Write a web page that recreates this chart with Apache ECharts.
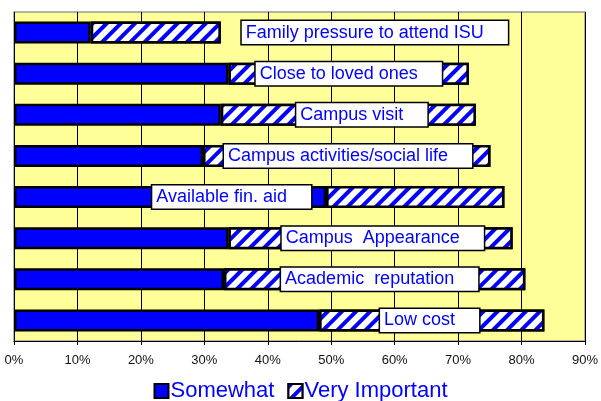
<!DOCTYPE html>
<html><head><meta charset="utf-8">
<script src="https://cdn.jsdelivr.net/npm/echarts@6/dist/echarts.min.js"></script>
<style>html,body{margin:0;padding:0;background:#fff}#c{width:601px;height:401px}</style>
</head><body><div id="c"></div>
<script>
var categories = ["Family pressure to attend ISU","Close to loved ones","Campus visit","Campus activities/social life","Available fin. aid","Campus  Appearance","Academic  reputation","Low cost"];
var somewhat = [12.1, 33.8, 32.6, 29.8, 49.2, 33.8, 33.1, 48.1];
var veryImportant = [20.5, 37.9, 40.2, 45.3, 28.1, 44.8, 47.5, 35.5];
var labelLeft = [35.9, 38.1, 44.5, 33.1, 21.8, 42.2, 42.1, 57.7];
var xTicks = [0,10,20,30,40,50,60,70,80,90];

var FONT = '"Liberation Sans", Arial, sans-serif';
var hatch = {symbol: 'rect', symbolSize: 1, color: '#0000ff', backgroundColor: '#ffffff', dashArrayX: [1, 0], dashArrayY: [4, 6], rotation: -Math.PI/4};
var chart = echarts.init(document.getElementById('c'));
chart.setOption({
  animation: false,
  backgroundColor: '#ffffff',
  grid: {left: 14, right: 16, top: 12, bottom: 60, show: true, backgroundColor: '#ffff99', borderColor: '#999999', borderWidth: 1.5},
  xAxis: {
    type: 'value', min: xTicks[0], max: xTicks[xTicks.length-1], interval: 10,
    axisLabel: {formatter: '{value}%', fontFamily: FONT, fontSize: 13, color: '#111', margin: 13},
    axisLine: {show: true, lineStyle: {color: '#000', width: 1}},
    axisTick: {show: true, length: 4, lineStyle: {color: '#000'}},
    splitLine: {show: true, lineStyle: {color: '#000', width: 1}}
  },
  yAxis: {
    type: 'category', data: categories, inverse: true,
    axisLabel: {show: false}, axisTick: {show: false}, axisLine: {show: false}, splitLine: {show: false}
  },
  legend: {
    top: 375, left: 'center', itemWidth: 14, itemHeight: 14, itemGap: 13, icon: 'rect',
    textStyle: {fontFamily: FONT, fontSize: 22, color: '#0000ff', padding: [0,0,0,-3]},
    data: [
      {name: 'Somewhat', itemStyle: {color: '#0000ff', borderColor: '#000', borderWidth: 2}},
      {name: 'Very Important', itemStyle: {color: '#ffffff', borderColor: '#000', borderWidth: 2, decal: hatch}}
    ]
  },
  series: [
    {name: 'Somewhat', type: 'bar', stack: 'a', barWidth: 22, data: somewhat,
     itemStyle: {color: '#0000ff', borderColor: '#000', borderWidth: 2.5}},
    {name: 'Very Important', type: 'bar', stack: 'a', barWidth: 22, data: veryImportant,
     itemStyle: {color: '#ffffff', borderColor: '#000', borderWidth: 2.5, decal: hatch}},
    {name: 'labels', type: 'scatter', z: 10, symbolSize: 0, silent: true,
     itemStyle: {opacity: 1},
     data: categories.map(function(c, i){ return [labelLeft[i], c]; }),
     label: {show: true, position: 'right', distance: 0, opacity: 1, formatter: function(p){ return p.value[1]; },
       fontFamily: FONT, fontSize: 18, color: '#0000ff', backgroundColor: '#ffffff',
       borderColor: '#000', borderWidth: 1.5, padding: [3, 24, 2, 4]}}
  ]
});
</script></body></html>
